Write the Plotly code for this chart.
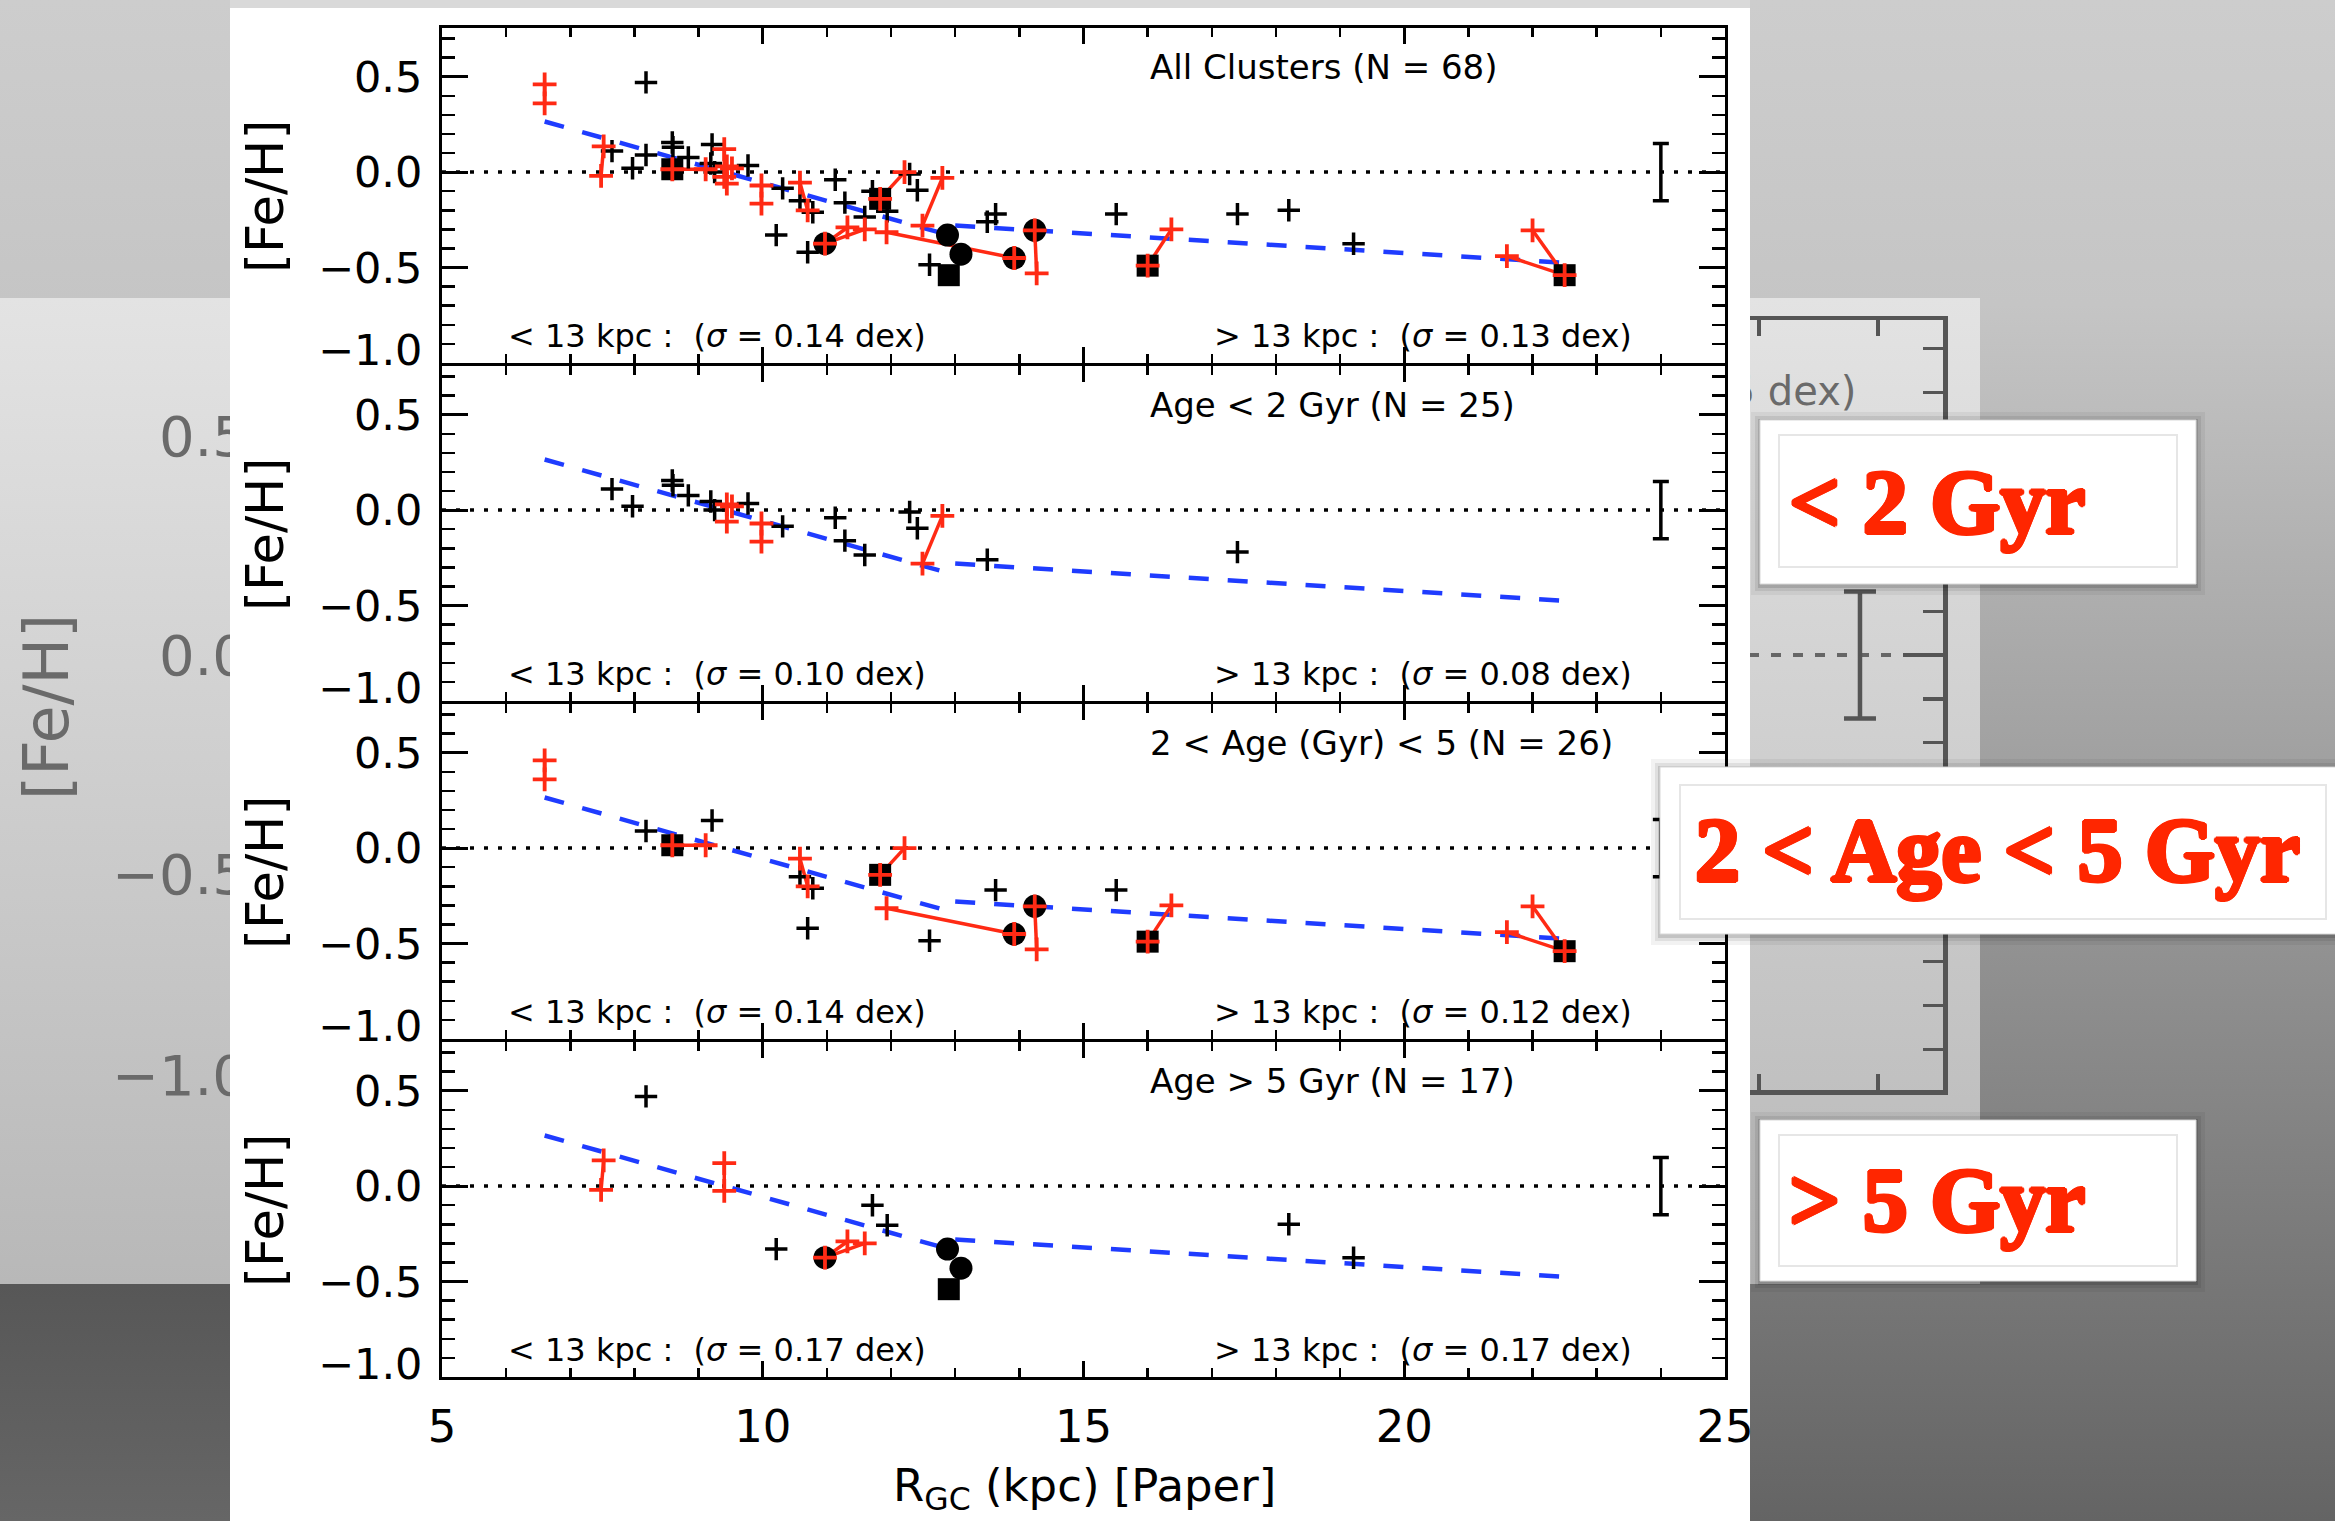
import plotly.graph_objects as go

W, H = 2335, 1521
RED = "#ff2a14"
LABEL_RED = "#ff2600"
BLUE = "#1f3cff"
GREY_TXT = "#6a6a6a"
FONT = "DejaVu Sans"

# ---------------- cluster data: R_GC (kpc) and [Fe/H] ----------------
# Age < 2 Gyr
young_plus_r = [7.65, 7.97, 8.59, 8.60, 8.84, 9.19, 9.25, 9.77, 10.31, 11.13, 11.28, 11.59, 12.29, 12.41, 13.50, 17.40]
young_plus_feh = [0.11, 0.02, 0.155, 0.13, 0.077, 0.045, 0.0, 0.035, -0.085, -0.04, -0.16, -0.235, -0.01, -0.095, -0.26, -0.22]
young_circ_r, young_circ_feh = [], []
young_sq_r, young_sq_feh = [], []
young_lit_r = [9.44, 9.52, 9.44, 9.98, 9.98, 12.49, 12.80]
young_lit_feh = [0.03, 0.02, -0.06, -0.07, -0.165, -0.28, -0.03]
young_link_a = [(9.44, 0.03), (9.98, -0.07), (12.49, -0.28)]
young_link_b = [(9.44, -0.06), (9.98, -0.165), (12.80, -0.03)]

# 2 < Age < 5 Gyr
mid_plus_r = [8.18, 9.21, 10.58, 10.78, 10.70, 12.60, 13.63, 15.51]
mid_plus_feh = [0.09, 0.145, -0.15, -0.21, -0.42, -0.485, -0.22, -0.22]
mid_circ_r = [13.92, 14.24]
mid_circ_feh = [-0.45, -0.305]
mid_sq_r = [8.59, 11.83, 16.0, 22.5]
mid_sq_feh = [0.015, -0.14, -0.49, -0.54]
mid_lit_r = [6.6, 6.6, 8.59, 9.11, 10.58, 10.70, 11.83, 12.21, 11.93, 13.92, 14.24, 14.27, 16.0, 16.37, 21.6, 22.0, 22.5]
mid_lit_feh = [0.46, 0.36, 0.015, 0.015, -0.055, -0.20, -0.14, 0.0, -0.315, -0.45, -0.305, -0.53, -0.49, -0.30, -0.44, -0.305, -0.54]
mid_link_a = [(6.6, 0.46), (8.59, 0.015), (10.58, -0.055), (11.83, -0.14), (11.93, -0.315),
              (14.24, -0.305), (16.0, -0.49), (22.5, -0.54), (22.5, -0.54)]
mid_link_b = [(6.6, 0.36), (9.11, 0.015), (10.70, -0.20), (12.21, 0.0), (13.92, -0.45),
              (14.27, -0.53), (16.37, -0.30), (21.6, -0.44), (22.0, -0.305)]

# Age > 5 Gyr
old_plus_r = [8.18, 10.21, 11.71, 11.94, 18.2, 19.21]
old_plus_feh = [0.47, -0.33, -0.10, -0.205, -0.20, -0.375]
old_circ_r = [10.97, 12.88, 13.09]
old_circ_feh = [-0.375, -0.33, -0.43]
old_sq_r = [12.90]
old_sq_feh = [-0.54]
old_lit_r = [7.52, 7.48, 9.40, 9.40, 10.97, 11.32, 11.59]
old_lit_feh = [0.135, -0.02, 0.12, -0.025, -0.375, -0.29, -0.30]
old_link_a = [(7.52, 0.135), (9.40, 0.12), (10.97, -0.375), (10.97, -0.375)]
old_link_b = [(7.48, -0.02), (9.40, -0.025), (11.32, -0.29), (11.59, -0.30)]

# gradient fits inside / outside 13 kpc
fit_inner_r = [6.6, 12.9]
fit_inner_feh = [0.265, -0.33]
fit_outer_r = [13.0, 22.5]
fit_outer_feh = [-0.28, -0.475]

# typical uncertainty
err_r = 24.0
err_feh = 0.15

young = dict(plus=(young_plus_r, young_plus_feh), circ=(young_circ_r, young_circ_feh),
             sq=(young_sq_r, young_sq_feh), lit=(young_lit_r, young_lit_feh),
             links=(young_link_a, young_link_b))
mid = dict(plus=(mid_plus_r, mid_plus_feh), circ=(mid_circ_r, mid_circ_feh),
           sq=(mid_sq_r, mid_sq_feh), lit=(mid_lit_r, mid_lit_feh),
           links=(mid_link_a, mid_link_b))
old = dict(plus=(old_plus_r, old_plus_feh), circ=(old_circ_r, old_circ_feh),
           sq=(old_sq_r, old_sq_feh), lit=(old_lit_r, old_lit_feh),
           links=(old_link_a, old_link_b))

panels = [
    dict(title="All Clusters (N\u00a0=\u00a068)", sig_in="0.14", sig_out="0.13", groups=[young, mid, old]),
    dict(title="Age &lt; 2 Gyr (N\u00a0=\u00a025)", sig_in="0.10", sig_out="0.08", groups=[young]),
    dict(title="2 &lt; Age (Gyr) &lt; 5 (N\u00a0=\u00a026)", sig_in="0.14", sig_out="0.12", groups=[mid]),
    dict(title="Age &gt; 5 Gyr (N\u00a0=\u00a017)", sig_in="0.17", sig_out="0.17", groups=[old]),
]

ytick_labels = [(0.5, "0.5"), (0.0, "0.0"), (-0.5, "\u22120.5"), (-0.93, "\u22121.0")]
behind_tick_vals = [0.5, 0.0, -0.5, -0.96]
behind_tick_text = ["0.5", "0.0", "\u22120.5", "\u22121.0"]


def xd(p0, p1):
    return [p0 / W, p1 / W]


def yd(top, bot):
    return [1 - bot / H, 1 - top / H]


def px(x):
    return x / W


def py(y):
    return 1 - y / H


fig = go.Figure()

# ---------------- slide backdrop (pixel canvas) ----------------
def grad_rect(x0, x1, y0, y1, stops, xa="x", ya="y"):
    fig.add_trace(go.Scatter(
        x=[x0, x1, x1, x0, x0], y=[y0, y0, y1, y1, y0], xaxis=xa, yaxis=ya,
        mode="lines", line=dict(width=0), fill="toself",
        fillgradient=dict(type="vertical", colorscale=stops, start=y0, stop=y1),
        hoverinfo="skip", showlegend=False))


grad_rect(0, W, 0, H, [[0, "#cdcdcd"], [0.2, "#c5c5c5"], [0.85, "#767676"], [1, "#646464"]])
grad_rect(0, 240, 1284, H, [[0, "#575757"], [1, "#666666"]])
grad_rect(0, 1980, 298, 1284, [[0, "#e3e3e3"], [1, "#b8b8b8"]])

# ---------------- enlarged chart on the slide behind ----------------
fig.add_trace(go.Scatter(x=[10.3, 24.55], y=[0, 0], xaxis="x2", yaxis="y2", mode="lines",
                         line=dict(color="#666666", width=4, dash="10px,12px"),
                         hoverinfo="skip", showlegend=False))
fig.add_trace(go.Scatter(x=[23.85], y=[0], xaxis="x2", yaxis="y2", mode="markers",
                         marker=dict(size=1, color="#555555"),
                         error_y=dict(type="data", array=[0.145], color="#555555", thickness=4.5, width=16),
                         hoverinfo="skip", showlegend=False))
fig.add_trace(go.Scatter(x=[23.82], y=[0.594], xaxis="x2", yaxis="y2", mode="text",
                         text=["(<i>\u03c3</i> = 0.15 dex)"], textposition="middle left", cliponaxis=False,
                         textfont=dict(family=FONT, size=40, color=GREY_TXT),
                         hoverinfo="skip", showlegend=False))
# anchor trace for the label axis of the enlarged chart
fig.add_trace(go.Scatter(x=[20], y=[0], xaxis="x2", yaxis="y8", mode="markers",
                         marker=dict(size=1, opacity=0), hoverinfo="skip", showlegend=False))

# ---------------- white page holding the figure ----------------
fig.add_trace(go.Scatter(x=[230, 1750, 1750, 230, 230], y=[8, 8, H, H, 8], xaxis="x3", yaxis="y3",
                         mode="lines", line=dict(width=0), fill="toself", fillcolor="white",
                         hoverinfo="skip", showlegend=False))
fig.add_trace(go.Scatter(x=[230, 1750, 1750, 230, 230], y=[0, 0, 8, 8, 0], xaxis="x3", yaxis="y3",
                         mode="lines", line=dict(width=0), fill="toself", fillcolor="#d9d9d9",
                         hoverinfo="skip", showlegend=False))

# ---------------- the four panels ----------------
PX0, PX1 = 442, 1725
LW = 3
tops = [28, 366, 704, 1042]
PANEL_H = 338 - LW          # frame lines sit just outside each panel
YR = [-1.0, 0.755]


def pairs_to_xy(a, b):
    xs, ys = [], []
    for (x0, y0), (x1, y1) in zip(a, b):
        xs += [x0, x1, None]
        ys += [y0, y1, None]
    return xs, ys


for i, p in enumerate(panels):
    n = i + 4
    xa, ya = f"x{n}", f"y{n}"
    # zero line
    fig.add_trace(go.Scatter(x=[5, 25], y=[0, 0], xaxis=xa, yaxis=ya, mode="lines",
                             line=dict(color="black", width=3.5, dash="4px,10px"),
                             hoverinfo="skip", showlegend=False))
    # fits
    for fr, ff in [(fit_inner_r, fit_inner_feh), (fit_outer_r, fit_outer_feh)]:
        fig.add_trace(go.Scatter(x=fr, y=ff, xaxis=xa, yaxis=ya, mode="lines",
                                 line=dict(color=BLUE, width=4.5, dash="20px,19px"),
                                 hoverinfo="skip", showlegend=False))
    # red connectors
    lx, ly = [], []
    for g in p["groups"]:
        a, b = pairs_to_xy(*g["links"])
        lx += a
        ly += b
    fig.add_trace(go.Scatter(x=lx, y=ly, xaxis=xa, yaxis=ya, mode="lines",
                             line=dict(color=RED, width=3.5), hoverinfo="skip", showlegend=False))

    def collect(key):
        xs, ys = [], []
        for g in p["groups"]:
            xs += list(g[key][0])
            ys += list(g[key][1])
        return xs, ys

    cx, cy = collect("circ")
    fig.add_trace(go.Scatter(x=cx, y=cy, xaxis=xa, yaxis=ya, mode="markers",
                             marker=dict(symbol="circle", size=23, color="black"),
                             hoverinfo="skip", showlegend=False))
    sx, sy = collect("sq")
    fig.add_trace(go.Scatter(x=sx, y=sy, xaxis=xa, yaxis=ya, mode="markers",
                             marker=dict(symbol="square", size=22, color="black"),
                             hoverinfo="skip", showlegend=False))
    bx, by = collect("plus")
    fig.add_trace(go.Scatter(x=bx, y=by, xaxis=xa, yaxis=ya, mode="markers",
                             marker=dict(symbol="cross-thin", size=16, line=dict(color="black", width=3.5)),
                             hoverinfo="skip", showlegend=False))
    rx, ry = collect("lit")
    fig.add_trace(go.Scatter(x=rx, y=ry, xaxis=xa, yaxis=ya, mode="markers",
                             marker=dict(symbol="cross-thin", size=17, line=dict(color=RED, width=3.8)),
                             hoverinfo="skip", showlegend=False))
    # typical error
    fig.add_trace(go.Scatter(x=[err_r], y=[0], xaxis=xa, yaxis=ya, mode="markers",
                             marker=dict(size=1, color="black"),
                             error_y=dict(type="data", array=[err_feh], color="black", thickness=3.5, width=8),
                             hoverinfo="skip", showlegend=False))

layout = dict(
    width=W, height=H, autosize=False,
    margin=dict(l=0, r=0, t=0, b=0, pad=0, autoexpand=False),
    paper_bgcolor="#c8c8c8", plot_bgcolor="rgba(0,0,0,0)",
    showlegend=False, hovermode=False,
    font=dict(family=FONT, color="black"),
)

canvas_x = dict(domain=[0, 1], range=[0, W], visible=False, fixedrange=True, automargin=False)
canvas_y = dict(domain=[0, 1], range=[H, 0], visible=False, fixedrange=True, automargin=False)
layout["xaxis"] = dict(canvas_x, anchor="y")
layout["yaxis"] = dict(canvas_y, anchor="x")
layout["xaxis3"] = dict(canvas_x, anchor="y3")
layout["yaxis3"] = dict(canvas_y, anchor="x3")

# enlarged chart axes
layout["xaxis2"] = dict(domain=xd(253, 1943), range=[10.3, 24.55], anchor="y2", automargin=False,
                        showline=True, linecolor="#555555", linewidth=4.5, mirror="ticks",
                        ticks="inside", tickcolor="#555555", tickwidth=3.5, ticklen=16,
                        tick0=0, dtick=1, showticklabels=False, showgrid=False, zeroline=False)
layout["yaxis2"] = dict(domain=yd(320, 1090), range=[-0.993, 0.765], anchor="x2", automargin=False,
                        showline=True, linecolor="#555555", linewidth=4.5, mirror="ticks",
                        ticks="inside", tickcolor="#555555", tickwidth=3.5, ticklen=40,
                        tick0=0, dtick=0.5,
                        minor=dict(ticks="inside", dtick=0.1, tick0=0, ticklen=20, tickwidth=3.5, tickcolor="#555555"),
                        showticklabels=False, showgrid=False, zeroline=False)
layout["yaxis8"] = dict(overlaying="y2", anchor="x2", side="left", range=[-0.993, 0.765], automargin=False,
                        tickmode="array", tickvals=behind_tick_vals, ticktext=behind_tick_text,
                        ticks="", showline=False, showgrid=False, zeroline=False,
                        tickfont=dict(family=FONT, size=56, color=GREY_TXT), ticklabelstandoff=4)

for i in range(4):
    n = i + 4
    top = tops[i]
    layout[f"xaxis{n}"] = dict(
        domain=xd(PX0, PX1), range=[5, 25], anchor=f"y{n}", automargin=False,
        showline=True, linecolor="black", linewidth=LW, mirror="ticks",
        ticks="inside", tickcolor="black", tickwidth=3, ticklen=16, tick0=5, dtick=5,
        minor=dict(ticks="inside", dtick=1, tick0=5, ticklen=9, tickwidth=2.5, tickcolor="black"),
        showgrid=False, zeroline=False, showticklabels=(i == 3),
        tickfont=dict(family=FONT, size=45, color="black"), ticklabelstandoff=8,
    )
    layout[f"yaxis{n}"] = dict(
        domain=yd(top, top + PANEL_H), range=YR, anchor=f"x{n}", automargin=False,
        showline=True, linecolor="black", linewidth=LW, mirror="ticks",
        ticks="inside", tickcolor="black", tickwidth=3, ticklen=26, tick0=0, dtick=0.5,
        minor=dict(ticks="inside", dtick=0.1, tick0=0, ticklen=13, tickwidth=2.5, tickcolor="black"),
        showgrid=False, zeroline=False, showticklabels=False,
    )

fig.update_layout(**layout)

ann = []
for i, p in enumerate(panels):
    n = i + 4
    xa, ya = f"x{n}", f"y{n}"
    for v, t in ytick_labels:
        ann.append(dict(x=px(424), xref="paper", y=v, yref=ya, text=t, showarrow=False,
                        xanchor="right", yanchor="middle", font=dict(family=FONT, size=43, color="black")))
    ann.append(dict(x=px(266), xref="paper", y=-0.13, yref=ya, text="[Fe/H]", textangle=-90,
                    showarrow=False, xanchor="center", yanchor="middle",
                    font=dict(family=FONT, size=51, color="black")))
    ann.append(dict(x=16.0, xref=xa, y=0.55, yref=ya, text=p["title"], showarrow=False,
                    xanchor="left", yanchor="middle", font=dict(family=FONT, size=34, color="black")))
    ann.append(dict(x=6.0, xref=xa, y=-0.86, yref=ya,
                    text=f"&lt; 13 kpc :\u00a0 (<i>\u03c3</i> = {p['sig_in']} dex)", showarrow=False,
                    xanchor="left", yanchor="middle", font=dict(family=FONT, size=32, color="black")))
    ann.append(dict(x=17.0, xref=xa, y=-0.86, yref=ya,
                    text=f"&gt; 13 kpc :\u00a0 (<i>\u03c3</i> = {p['sig_out']} dex)", showarrow=False,
                    xanchor="left", yanchor="middle", font=dict(family=FONT, size=32, color="black")))

ann.append(dict(x=px(1084), xref="paper", y=py(1488), yref="paper",
                text="R<sub>GC</sub> (kpc) [Paper]", showarrow=False, xanchor="center", yanchor="middle",
                font=dict(family=FONT, size=45, color="black")))
ann.append(dict(x=px(46), xref="paper", y=py(707), yref="paper", text="[Fe/H]", textangle=-90,
                showarrow=False, xanchor="center", yanchor="middle",
                font=dict(family=FONT, size=62, color=GREY_TXT)))

# ---------------- age labels on the slide ----------------
shapes = []
boxes = [
    dict(outer=(1760, 420, 2196, 584), inner=(1779, 435, 2177, 567), text="&lt; 2 Gyr", tx=1787, ty=502),
    dict(outer=(1660, 767, W + 12, 934), inner=(1680, 785, 2326, 919), text="2 &lt; Age &lt; 5 Gyr", tx=1693, ty=850),
    dict(outer=(1760, 1120, 2196, 1281), inner=(1779, 1135, 2177, 1266), text="&gt; 5 Gyr", tx=1787, ty=1200),
]
s = "2px"
txt_shadow = ", ".join(f"{a} {b} 0 {LABEL_RED}" for a, b in
                       [(s, "0"), ("-" + s, "0"), ("0", s), ("0", "-" + s),
                        ("1.4px", "1.4px"), ("-1.4px", "1.4px"), ("1.4px", "-1.4px"), ("-1.4px", "-1.4px")])
for b in boxes:
    x0, y0, x1, y1 = b["outer"]
    for grow, alpha in [(9, 0.05), (5, 0.08), (2, 0.12)]:
        shapes.append(dict(type="rect", xref="paper", yref="paper", layer="above",
                           x0=px(x0 - grow), x1=px(min(x1 + grow, W + 12)), y0=py(y1 + grow + 2),
                           y1=py(y0 - grow + 1),
                           fillcolor=f"rgba(0,0,0,{alpha})", line=dict(width=0)))
    shapes.append(dict(type="rect", xref="paper", yref="paper", layer="above",
                       x0=px(x0), x1=px(x1), y0=py(y1), y1=py(y0),
                       fillcolor="white", line=dict(color="#d8d8d8", width=1)))
    ix0, iy0, ix1, iy1 = b["inner"]
    shapes.append(dict(type="rect", xref="paper", yref="paper", layer="above",
                       x0=px(ix0), x1=px(ix1), y0=py(iy1), y1=py(iy0),
                       fillcolor="rgba(0,0,0,0)", line=dict(color="#e6e6e6", width=2)))
    ann.append(dict(x=px(b["tx"]), xref="paper", y=py(b["ty"]), yref="paper", text=f"<b>{b['text']}</b>",
                    showarrow=False, xanchor="left", yanchor="middle",
                    font=dict(family="Liberation Serif", size=90, color=LABEL_RED, shadow=txt_shadow)))

fig.update_layout(annotations=ann, shapes=shapes)

fig.write_html(
    "out.html",
    config=dict(displayModeBar=False, staticPlot=True, responsive=False),
    post_script=(
        "document.documentElement.style.margin='0';document.documentElement.style.overflow='hidden';"
        "document.body.style.margin='0';document.body.style.padding='0';document.body.style.overflow='hidden';"
        "var gd=document.getElementById('{plot_id}');gd.style.width='2335px';gd.style.height='1521px';"
        "Plotly.relayout(gd,{width:2335,height:1521});"
    ),
)
